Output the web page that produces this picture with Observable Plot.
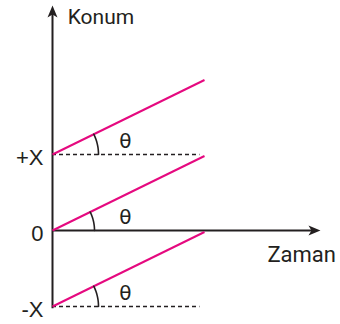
<!DOCTYPE html>
<html>
<head>
<meta charset="utf-8">
<script src="https://cdn.jsdelivr.net/npm/d3@7"></script>
<script src="https://cdn.jsdelivr.net/npm/@observablehq/plot@0.6"></script>
<style>
  html, body { margin: 0; padding: 0; background: #fff; }
  #chart svg { display: block; overflow: visible; }
</style>
</head>
<body>
<div id="chart"></div>
<script>
// ---- data ----
const offsets = [1, 0, -1];            // starting positions: +X, 0, -X
const offsetLabels = ["+X", "0", "-X"];
const rise = 0.98;                     // change in position over one time unit (same slope for all lines)
const tEnd = 1;                        // time at which the pink lines end
const dashEnd = 0.97;                  // end of dashed reference lines
const timeAxisEnd = 1.763;             // end of the time axis arrow
const posAxisTop = 2.96;               // top of the position axis arrow
const axisTitles = ["Konum", "Zaman"];
const angleLabel = "θ";

// ---- layout ----
const W = 340, H = 324;
const mL = 52, mR = 136, mT = 154, mB = 18;
const pxPerT = (W - mL - mR) / tEnd;
const pxPerY = (H - mT - mB) / 2;

const lines = offsets.map(o => ({x1: 0, y1: o, x2: tEnd, y2: o + rise}));
const dashed = offsets.filter(o => o !== 0);

// angle arcs (radius in pixels converted to data units through the scale ratios)
const R = 46;
const ang = Math.atan2(rise * pxPerY, tEnd * pxPerT);
const arcs = [];
offsets.forEach((o, i) => {
  const r = i === 1 ? 42 : R;
  d3.range(0, 1.0001, 0.05).forEach(f => {
    const a = f * ang;
    arcs.push({g: i, x: r * Math.cos(a) / pxPerT, y: o + r * Math.sin(a) / pxPerY});
  });
});

const arrowHead = {
  draw(ctx) {
    ctx.moveTo(0, 0);
    ctx.lineTo(5, 12);
    ctx.lineTo(0, 9);
    ctx.lineTo(-5, 12);
    ctx.closePath();
  }
};

const pink = "#e5097f";
const ink = "#231f20";

const chart = Plot.plot({
  width: W, height: H,
  marginLeft: mL, marginRight: mR, marginTop: mT, marginBottom: mB,
  x: {domain: [0, tEnd], axis: null},
  y: {domain: [-1, 1], axis: null},
  style: {fontFamily: "'Liberation Sans', Arial, sans-serif", fontSize: "21px", color: ink, background: "#fff"},
  marks: [
    // dashed reference lines
    Plot.ruleY(dashed, {x1: 0, x2: dashEnd, stroke: ink, strokeWidth: 1.6, strokeDasharray: "4,3"}),
    // axes
    Plot.ruleX([0], {y1: -1.03, y2: posAxisTop - 0.1, stroke: ink, strokeWidth: 2}),
    Plot.ruleY([0], {x1: 0, x2: timeAxisEnd - 0.04, stroke: ink, strokeWidth: 2}),
    Plot.dot([{x: 0, y: posAxisTop}], {x: "x", y: "y", symbol: arrowHead, fill: ink, stroke: "none", r: 5}),
    Plot.dot([{x: timeAxisEnd, y: 0}], {x: "x", y: "y", symbol: arrowHead, fill: ink, stroke: "none", r: 5, rotate: 90}),
    // pink lines
    Plot.link(lines, {x1: "x1", y1: "y1", x2: "x2", y2: "y2", stroke: pink, strokeWidth: 2}),
    // angle arcs
    Plot.line(arcs, {x: "x", y: "y", z: "g", stroke: ink, strokeWidth: 1.6}),
    Plot.text(offsets, {x: () => 0.48, y: d => d, dy: -13, text: () => angleLabel, fontFamily: "'DejaVu Sans', sans-serif", fontSize: 20, fill: ink}),
    // y tick labels
    Plot.axisY({ticks: offsets, tickFormat: d => offsetLabels[offsets.indexOf(d)], tickSize: 0, tickPadding: 9, fontSize: 22, dy: 3, label: null, anchor: "left"}),
    // axis titles
    Plot.text([axisTitles[0]], {x: () => 0.1, y: () => 2.8, text: d => d, textAnchor: "start", fontFamily: "Roboto, sans-serif", fontSize: 21, fill: ink}),
    Plot.text([axisTitles[1]], {x: () => 1.414, y: () => -0.32, text: d => d, textAnchor: "start", fontFamily: "Roboto, sans-serif", fontSize: 22, fill: ink})
  ]
});
document.getElementById("chart").append(chart);
</script>
</body>
</html>
